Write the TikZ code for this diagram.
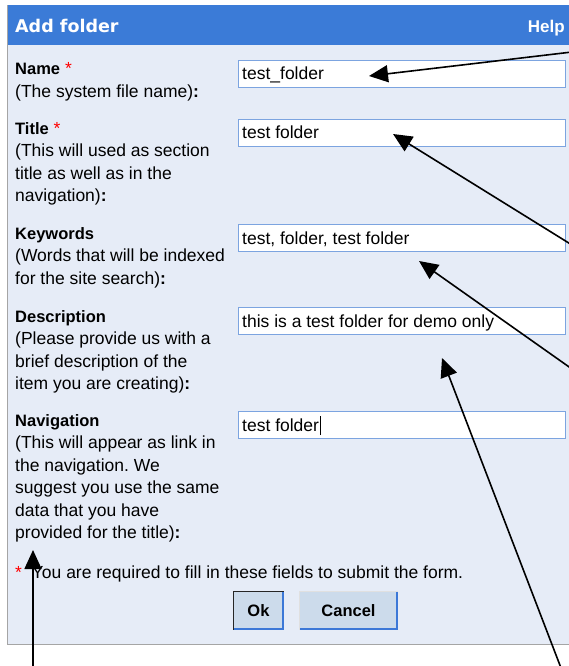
\documentclass[tikz,border=0pt]{standalone}
\usepackage{fontspec}
\setmainfont{Liberation Sans}
\newfontfamily\headfont{DejaVu Sans}
\usepackage{xcolor}
\usetikzlibrary{
    arrows.meta,
    positioning
}
\frenchspacing
\definecolor{headblue}{RGB}{59,123,215}
\definecolor{panelbg}{RGB}{230,236,247}
\definecolor{panelline}{RGB}{165,165,165}
\definecolor{fieldline}{RGB}{124,164,224}
\definecolor{btnfill}{RGB}{204,219,235}
\definecolor{btnblue}{RGB}{60,120,215}
\tikzset{
    lbl/.style={anchor=base west, inner sep=0pt, align=left, font=\fontsize{17.5}{22.5}\selectfont},
    field/.style={anchor=north west, draw=fieldline, fill=white, line width=1.2pt, minimum width=327pt, minimum height=27pt, inner sep=0pt},
    ftext/.style={anchor=base west, inner sep=0pt, font=\fontsize{17.5}{21}\selectfont},
    btn/.style={anchor=north west, fill=btnfill, minimum height=38pt, inner sep=0pt, line width=1pt, font=\bfseries\fontsize{16.5}{20}\selectfont},
    pointer/.style={line width=1.6pt, -{Triangle[length=19pt,width=17pt]}}
}
\newcommand{\req}{\textcolor{red}{*}}
\newcommand{\lblhead}[1]{{\bfseries\fontsize{16.5}{22.5}\selectfont #1}}

\begin{document}
\begin{tikzpicture}[x=1pt, y=-1pt]
    \useasboundingbox (0,0) rectangle (568,666);
    \fill[white] (0,0) rectangle (568,666);
    % panel and header
    \draw[panelline, fill=panelbg] (7,5) rectangle (590,644);
    \fill[headblue] (7.5,5.5) rectangle (590,45);
    \node[anchor=base west, inner sep=0pt, text=white, font=\headfont\bfseries\fontsize{17.5}{20}\selectfont] (head) at (15,33) {Add folder};
    \node[anchor=base east, inner sep=0pt, text=white, font=\bfseries\fontsize{17}{20}\selectfont] (help) at (565,33) {Help};

    % labels (placed at the baseline of their last line)
    \node[lbl] (nameLbl) at (15,97.5) {\lblhead{Name} \req\\(The system file name)\textbf{:}};
    \node[lbl] (titleLbl) at (15,201.5) {\lblhead{Title} \req\\(This will used as section\\title as well as in the\\navigation)\textbf{:}};
    \node[lbl] (keyLbl) at (15,284) {\lblhead{Keywords}\\(Words that will be indexed\\for the site search)\textbf{:}};
    \node[lbl] (descLbl) at (15,389.5) {\lblhead{Description}\\(Please provide us with a\\brief description of the\\item you are creating)\textbf{:}};
    \node[lbl] (navLbl) at (15,538.5) {\lblhead{Navigation}\\(This will appear as link in\\the navigation. We\\suggest you use the same\\data that you have\\provided for the title)\textbf{:}};
    \node[lbl] (reqNote) at (15,578) {\req\hspace{5pt} You are required to fill in these fields to submit the form.};

    % fields
    \node[field] (nameBox) at (238,60) {};
    \node[field] (titleBox) at (238,119) {};
    \node[field] (keyBox) at (238,224) {};
    \node[field] (descBox) at (238,307) {};
    \node[field] (navBox) at (238,411) {};
    \node[ftext] (nameVal) at (242,80) {test\_folder};
    \node[ftext] (titleVal) at (242,139) {test folder};
    \node[ftext] (keyVal) at (242,244) {test, folder, test folder};
    \node[ftext] (descVal) at (242,327) {this is a test folder for demo only};
    \node[ftext] (navVal) at (242,431) {test folder};
    \draw[line width=1pt] (navVal.base east) ++(1.5,4) -- ++(0,-19);

    % buttons
    \node[btn, draw=black!85, minimum width=50pt] (ok) at (233,591) {Ok};
    \draw[btnblue, line width=1.5pt] (ok.south west) ++(1,-1) -- ([xshift=-1pt, yshift=1pt]ok.south east) -- ([xshift=-1pt, yshift=-1pt]ok.north east);
    \node[btn, draw=black!12, minimum width=98pt] (cancel) at (299,591) {Cancel};
    \draw[btnblue, line width=1.5pt] (cancel.south west) ++(1,-1) -- ([xshift=-1pt, yshift=1pt]cancel.south east) -- ([xshift=-1pt, yshift=-1pt]cancel.north east);

    % pointers
    \coordinate (nameTail) at (572,52);
    \coordinate (nameTip) at (369,76);
    \coordinate (titleTail) at (572,245);
    \coordinate (titleTip) at (393,134);
    \coordinate (keyTail) at (572,369);
    \coordinate (keyTip) at (419,261);
    \coordinate (descTail) at (561,668);
    \coordinate (descTip) at (442,358);
    \coordinate (navTail) at (33,668);
    \coordinate (navTip) at (33,550);
    \draw[pointer] (nameTail) -- (nameTip);
    \draw[pointer] (titleTail) -- (titleTip);
    \draw[pointer] (keyTail) -- (keyTip);
    \draw[pointer] (descTail) -- (descTip);
    \draw[pointer] (navTail) -- (navTip);
\end{tikzpicture}
\end{document}
